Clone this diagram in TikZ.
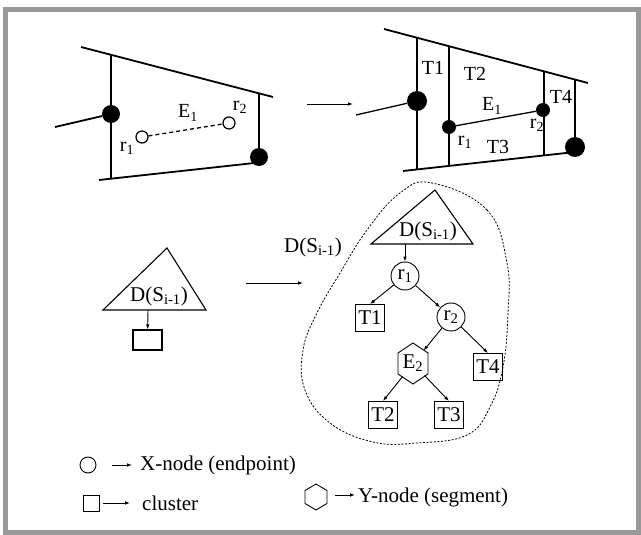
\documentclass[tikz,border=0pt]{standalone}
\usepackage{fontspec}
\setmainfont{Liberation Serif}
\usetikzlibrary{arrows.meta,calc}
\definecolor{framegray}{gray}{0.6}
\newcommand\lbl{\fontsize{20}{22}\selectfont}
\newcommand\lbb{\fontsize{21}{23}\selectfont}
\begin{document}
\begin{tikzpicture}[x=1pt,y=-1pt,
  heavy/.style={line width=1.8pt},
  light/.style={line width=1.3pt},
  dot/.style={circle,fill=black,inner sep=0pt},
  arr/.style={-{Latex[length=5pt,width=3.6pt]}, line width=0.9pt},
  box/.style={draw,line width=0.9pt,minimum width=29pt,minimum height=27pt,inner sep=0pt,font=\lbb},
  cnode/.style={draw,circle,line width=0.9pt,minimum size=28pt,inner sep=0pt,font=\lbb},
  open/.style={draw,circle,fill=white,line width=1.2pt,minimum size=12pt,inner sep=0pt},
  lab/.style={font=\lbl,inner sep=0pt},
  labb/.style={font=\lbb,inner sep=0pt}]
\useasboundingbox (0,0) rectangle (641,535);
\draw[framegray,line width=5pt] (5.5,9.5) rectangle (638.5,532);

% ---------- top-left figure ----------
\coordinate (A1) at (81,47); \coordinate (A2) at (273,97);
\coordinate (B1) at (99,180); \coordinate (B2) at (259,162.5);
\draw[heavy] (A1) -- (A2);
\draw[heavy] (B1) -- (B2);
\draw[light] (111,54.8) -- (111,178.7);
\draw[light] (259,93.4) -- (259,157);
\node[dot,minimum size=18pt] (LD) at (111,114) {};
\node[dot,minimum size=18pt] (RD) at (259,157) {};
\coordinate (LL) at (55,127);
\draw[heavy] (LL) -- (LD);
\node[open] (p1) at (142,137) {};
\node[open] (p2) at (229,123) {};
\draw[line width=1.3pt,dash pattern=on 4pt off 3pt] (p1) -- (p2);
\node[lab] (e1a) at (188,113) {E\textsubscript{1}};
\node[lab] (r1a) at (127,148) {r\textsubscript{1}};
\node[lab] (r2a) at (240,107) {r\textsubscript{2}};

% arrow between top figures
\coordinate (t1) at (307,104); \coordinate (t2) at (353,104);
\draw[arr] (t1) -- (t2);

% ---------- top-right figure ----------
\coordinate (C1) at (384,29); \coordinate (C2) at (588,83);
\coordinate (D1) at (403,171); \coordinate (D2) at (575,152);
\draw[heavy] (C1) -- (C2);
\draw[heavy] (D1) -- (D2);
\draw[light] (417,37.7) -- (417,169.5);
\draw[light] (449,46.2) -- (449,165.9);
\draw[light] (544,71.4) -- (544,155.4);
\draw[light] (575,79.6) -- (575,147);
\node[dot,minimum size=20pt] (BD1) at (417,101) {};
\node[dot,minimum size=20pt] (BD2) at (575,147) {};
\node[dot,minimum size=14pt] (SD1) at (449,127) {};
\node[dot,minimum size=14pt] (SD2) at (543,110) {};
\coordinate (LL2) at (356,115);
\draw[light] (LL2) -- (BD1);
\draw[light] (SD1) -- (SD2);
\node[lab] at (433,68) {T1};
\node[lab] at (475,74) {T2};
\node[lab] at (492,106) {E\textsubscript{1}};
\node[lab] at (561,97) {T4};
\node[lab] at (537,125) {r\textsubscript{2}};
\node[lab] at (465,142) {r\textsubscript{1}};
\node[lab] at (498,147) {T3};

% ---------- middle-left ----------
\draw[line width=1.1pt] (167,248) -- (103,310) -- (206,310) -- cycle;
\node[labb] (dl) at (159,296) {D(S\textsubscript{i-1})};
\coordinate (ta) at (148,310);
\node[draw,line width=1.1pt,minimum width=29pt,minimum height=20pt,inner sep=0pt] (cb) at (147.5,340) {};
\draw[arr] (ta) -- (cb);
\coordinate (m1) at (246,283); \coordinate (m2) at (303,283);
\draw[arr] (m1) -- (m2);
\node[labb] (dm) at (313,247) {D(S\textsubscript{i-1})};

% ---------- tree ----------
\draw[line width=0.8pt,dash pattern=on 2pt off 1.6pt] plot[smooth cycle,tension=0.7] coordinates {
 (432,183) (487,210) (507,263) (508,313) (503,367) (490,407) (467,435) (417,443)
 (373,442) (330,423) (305,390) (303,350) (317,313) (340,273) (367,230) (400,193)};
\draw[line width=1.1pt] (435,190) -- (371,244) -- (473,244) -- cycle;
\node[labb] at (428,231) {D(S\textsubscript{i-1})};
\coordinate (tb) at (405,244);
\node[cnode] (r1) at (405,276) {r\textsubscript{1}};
\node[cnode] (r2) at (451,317) {r\textsubscript{2}};
\node[box] (T1) at (370,318) {T1};
\node[box] (T4) at (488,367) {T4};
\node[box] (T2) at (383,415) {T2};
\node[box] (T3) at (449,415) {T3};
\draw[line width=0.9pt] (413,343) -- (428,353) -- (428,374) -- (413,384) -- (398,374) -- (398,353) -- cycle;
\node[circle,minimum size=33pt,inner sep=0pt,font=\lbb] (E2) at (413,363.5) {E\textsubscript{2}};
\draw[arr] (tb) -- (r1);
\draw[arr] (r1) -- (T1.north);
\draw[arr] (r1) -- (r2);
\draw[arr] (r2) -- (E2);
\draw[arr] (r2) -- (T4.north);
\draw[arr] (E2) -- (T2.north);
\draw[arr] (E2) -- (T3.north);

% ---------- legend ----------
\node[draw,circle,line width=0.9pt,minimum size=16pt,inner sep=0pt] (lc) at (88,465) {};
\coordinate (la1) at (112,465); \coordinate (la2) at (132,465);
\draw[arr] (la1) -- (la2);
\node[labb,anchor=west] (lt1) at (140,465) {X-node (endpoint)};
\node[draw,line width=0.9pt,minimum size=16pt,inner sep=0pt] (ls) at (91,503) {};
\coordinate (lb1) at (103,503); \coordinate (lb2) at (130,503);
\draw[arr] (lb1) -- (lb2);
\node[labb,anchor=west] (lt2) at (142,503) {cluster};
\draw[line width=0.9pt] (316,484) -- (327,490.5) -- (327,503.5) -- (316,510) -- (305,503.5) -- (305,490.5) -- cycle;
\coordinate (lh1) at (335,495); \coordinate (lh2) at (355,495);
\draw[arr] (lh1) -- (lh2);
\node[labb,anchor=west] (lt3) at (358,497) {Y-node (segment)};
\end{tikzpicture}
\end{document}
